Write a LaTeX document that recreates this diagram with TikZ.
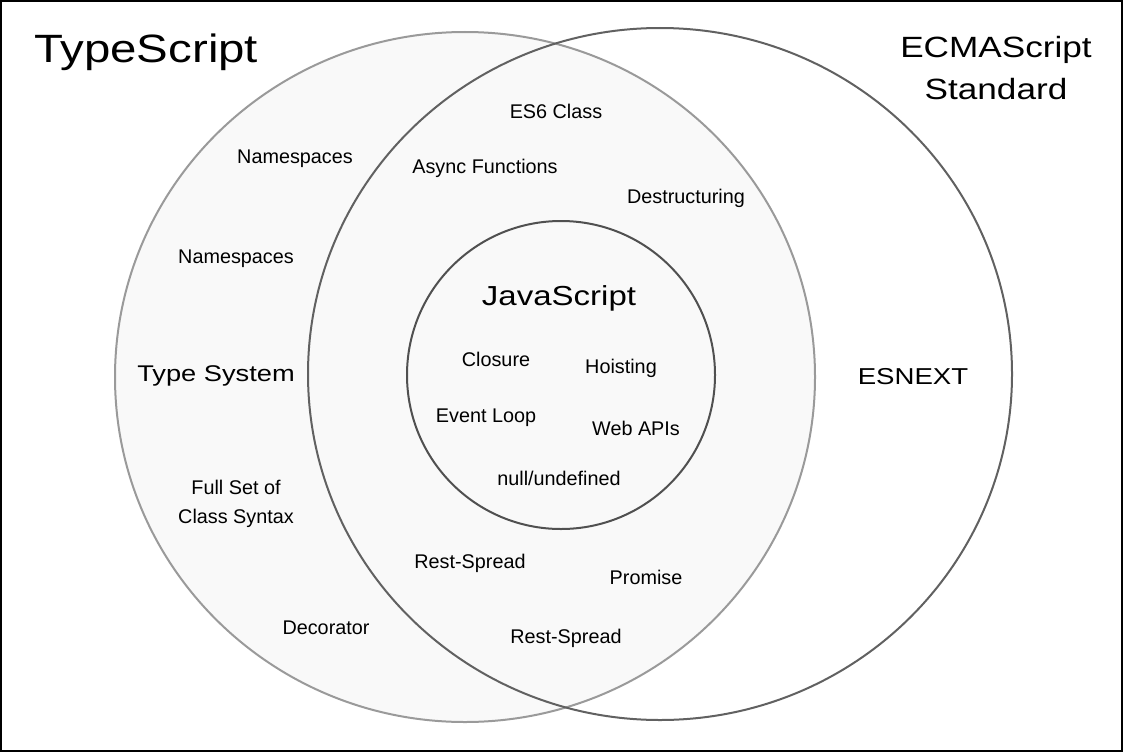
\documentclass[tikz,border=0pt]{standalone}
\usepackage{fontspec}
\setmainfont{Liberation Sans}
\newfontfamily\widefont[FakeStretch=1.2]{Liberation Sans}
\usepackage{tikz}

\definecolor{tsfill}{HTML}{F9F9F9}
\definecolor{tsline}{HTML}{9A9A9A}
\definecolor{esline}{HTML}{616161}
\definecolor{jsline}{HTML}{505050}

\begin{document}
\begin{tikzpicture}[x=1pt,y=-1pt,
  item/.style={font=\fontsize{19.8}{29}\selectfont,align=center,inner sep=1pt},
  big/.style={font=\widefont\fontsize{#1}{#1}\selectfont,inner sep=0pt}]
\useasboundingbox (0,0) rectangle (1123,752);
\draw[line width=1.5pt] (1,1) rectangle (1122,751);
% the three sets
\fill[tsfill] (465,377) ellipse (350 and 345);
\draw[tsline,line width=2pt] (465,377) ellipse (350 and 345);
\draw[esline,line width=2pt] (660,374) ellipse (352 and 346);
\draw[jsline,line width=2pt] (561,375) circle (154);
% set titles
\node[big=39.5,anchor=base west] (ts) at (34,63) {TypeScript};
\node[big=29.3,align=center] (es) at (996,68) {ECMAScript\\[13pt]Standard};
\node[big=27.5,anchor=base] (js) at (559,305) {JavaScript};
\node[big=22.7] (tsys) at (216,376) {Type System};
\node[big=23] (esnext) at (913,377) {ESNEXT};
% TypeScript only
\node[item] (ns1) at (295,159) {Namespaces};
\node[item] (ns2) at (236,259) {Namespaces};
\node[item] (cls) at (236,504) {Full Set of\\Class Syntax};
\node[item] (deco) at (326,628) {Decorator};
% shared with ECMAScript
\node[item] (es6) at (556,111) {ES6 Class};
\node[item] (async) at (485,168) {Async Functions};
\node[item] (destr) at (686,198) {Destructuring};
\node[item] (rest1) at (470,563) {Rest-Spread};
\node[item] (prom) at (646,577) {Promise};
\node[item] (rest2) at (566,638) {Rest-Spread};
% JavaScript core
\node[item] (clos) at (496,359) {Closure};
\node[item] (hoist) at (621,368) {Hoisting};
\node[item] (loop) at (486,418) {Event Loop};
\node[item] (web) at (636,428) {Web APIs};
\node[item] (null) at (559,478) {null/undefined};
\end{tikzpicture}
\end{document}
